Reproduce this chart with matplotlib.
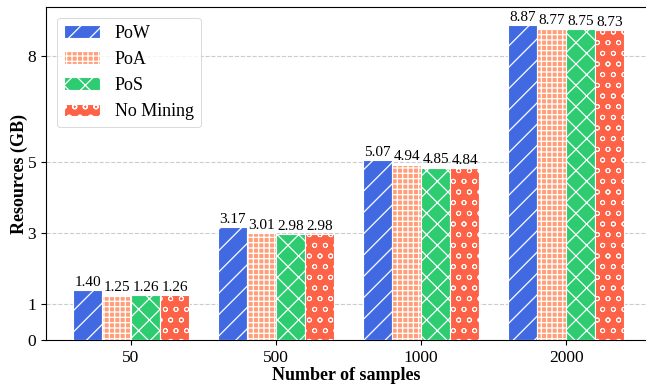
import numpy as np
import matplotlib
matplotlib.use("Agg")
import matplotlib.pyplot as plt

DPI = 64.6
S = 100 / DPI  # font/line scale so the text keeps its pixel size

plt.rcParams['font.family'] = ['Liberation Serif', 'DejaVu Serif']
plt.rcParams['hatch.linewidth'] = 0.9 * S
plt.rcParams['axes.linewidth'] = 0.8 * S
plt.rcParams['xtick.major.width'] = 0.8 * S
plt.rcParams['ytick.major.width'] = 0.8 * S
plt.rcParams['xtick.major.size'] = 3.5 * S
plt.rcParams['ytick.major.size'] = 3.5 * S
plt.rcParams['xtick.major.pad'] = 3.5 * S
plt.rcParams['ytick.major.pad'] = 3.5 * S

samples = ['50', '500', '1000', '2000']
methods = ['PoW', 'PoA', 'PoS', 'No Mining']
pow_vals = [1.40, 3.17, 5.07, 8.87]
poa_vals = [1.25, 3.01, 4.94, 8.77]
pos_vals = [1.26, 2.98, 4.85, 8.75]
nomining_vals = [1.26, 2.98, 4.84, 8.73]
yticks = [0, 1, 3, 5, 8]

series = [pow_vals, poa_vals, pos_vals, nomining_vals]
colors = ['#4169E1', '#FFA07A', '#2ECC71', '#FF6347']
hatches = ['/', '++', 'x', 'o']
hatch_lw = [0.9, 0.9, 0.9, 0.6]

fig = plt.figure(figsize=(646 / DPI, 384 / DPI), dpi=DPI)
ax = fig.add_axes([46/646, 44/384, 600/646, 333/384])

x = np.arange(len(samples))
w = 0.2
for k, (vals, lab) in enumerate(zip(series, methods)):
    with plt.rc_context({'hatch.linewidth': hatch_lw[k] * S}):
        bars = ax.bar(x + (k - 1.5) * w, vals, w, label=lab, color=colors[k],
                      hatch=hatches[k], edgecolor='white', linewidth=0.8 * S, zorder=3)
    ax.bar_label(bars, labels=['%.2f' % v for v in vals], fontsize=11 * S, padding=1 * S)

ax.set_xticks(x)
ax.set_xticklabels(samples, fontsize=12.5 * S)
ax.set_yticks(yticks)
ax.set_yticklabels([str(t) for t in yticks], fontsize=12.5 * S)
ax.set_xlim(-0.586, 3.55)
ax.set_ylim(0, 9.38)
ax.yaxis.grid(True, linestyle='--', color='#cccccc', linewidth=0.8 * S, zorder=0)
ax.set_axisbelow(True)
ax.spines['right'].set_visible(False)
ax.set_xlabel('Number of samples', fontsize=13 * S, fontweight='bold', labelpad=1 * S)
ax.set_ylabel('Resources (GB)', fontsize=13 * S, fontweight='bold', labelpad=0)
ax.legend(loc='upper left', fontsize=13 * S, borderaxespad=0.6, handlelength=2.0)

fig.savefig('out.png', dpi=DPI)
